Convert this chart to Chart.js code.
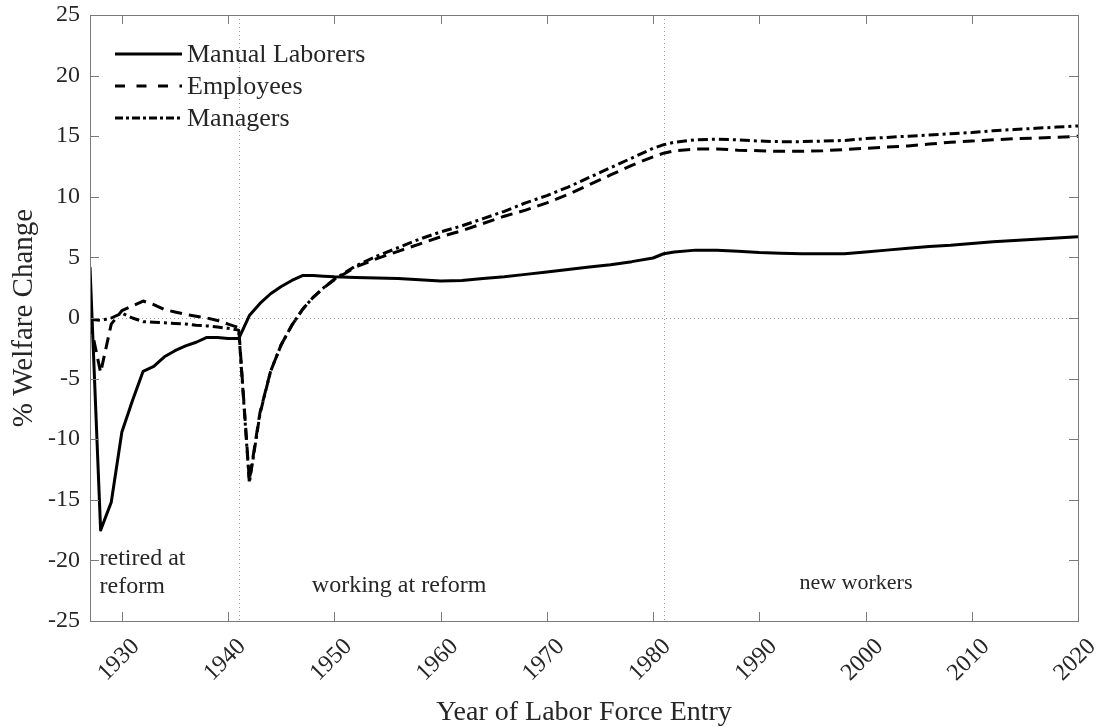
<!DOCTYPE html>
<html>
<head>
<meta charset="utf-8">
<script src="https://cdn.jsdelivr.net/npm/chart.js@4"></script>
<style>
  body { margin: 0; background: #fff; }
  #wrap { width: 1099px; height: 727px; }
</style>
</head>
<body>
<div id="wrap"><canvas id="welfareChart" width="1099" height="727"></canvas></div>
<script>
// year of labor force entry
var years = [1927,1928,1929,1930,1931,1932,1933,1934,1935,1936,1937,1938,1939,1940,1941,
  1942,1943,1944,1945,1946,1947,1948,1949,1950,1952,1954,1956,1958,1960,1962,1964,1966,
  1968,1970,1972,1974,1976,1978,1980,1981,1982,1984,1986,1988,1990,1992,1994,1996,1998,
  2000,2002,2004,2006,2008,2010,2012,2014,2016,2018,2020];

var manualLaborers = [4.2,-17.5,-15.2,-9.4,-6.8,-4.4,-4.0,-3.2,-2.7,-2.3,-2.0,-1.6,-1.6,-1.7,-1.7,
  0.2,1.2,2.0,2.6,3.1,3.5,3.5,3.45,3.4,3.35,3.3,3.25,3.15,3.05,3.1,3.25,3.4,
  3.6,3.8,4.0,4.2,4.4,4.65,4.95,5.3,5.45,5.6,5.6,5.5,5.4,5.35,5.3,5.3,5.3,
  5.45,5.6,5.75,5.9,6.0,6.15,6.3,6.4,6.5,6.6,6.7];

var employees = [-0.3,-4.5,-0.5,0.6,1.0,1.4,1.1,0.7,0.5,0.3,0.15,0.0,-0.2,-0.5,-0.8,
  -13.4,-7.8,-4.4,-2.2,-0.6,0.7,1.7,2.5,3.15,4.2,4.9,5.5,6.1,6.7,7.2,7.8,8.4,
  8.9,9.5,10.2,11.0,11.8,12.6,13.3,13.6,13.8,13.95,13.95,13.85,13.8,13.75,13.75,13.8,13.9,
  14.0,14.1,14.2,14.35,14.5,14.6,14.7,14.8,14.85,14.9,15.0];

var managers = [-0.1,-0.2,0.0,0.4,0.0,-0.3,-0.35,-0.4,-0.45,-0.5,-0.6,-0.65,-0.75,-0.85,-1.0,
  -13.6,-7.9,-4.4,-2.2,-0.6,0.7,1.7,2.5,3.2,4.3,5.1,5.8,6.5,7.1,7.6,8.2,8.8,
  9.5,10.1,10.8,11.6,12.4,13.2,14.0,14.3,14.5,14.7,14.75,14.7,14.6,14.55,14.55,14.6,14.65,
  14.8,14.9,15.0,15.1,15.2,15.3,15.45,15.55,15.65,15.75,15.85];

var seriesNames = ['Manual Laborers', 'Employees', 'Managers'];
var xTicks = [1930,1940,1950,1960,1970,1980,1990,2000,2010,2020];
var reformYears = [1941, 1981];

// text inside the plot: [text, year, value, align, size]
var notes = [
  ['retired at', 1927.9, -20.4, 'left', 24],
  ['reform', 1927.9, -22.7, 'left', 24],
  ['working at reform', 1956.1, -22.6, 'center', 24],
  ['new workers', 1999.1, -22.4, 'center', 22]
];

var FONT = "'Liberation Serif', 'DejaVu Serif', serif";
var INK = '#262626';
var BOX = '#7a7a7a';
var dashes = [[], [12, 7], [10, 4, 3, 4]];
var legendDashes = [[], [10, 11.5], [8, 3, 3, 3]];

function pts(vals) {
  return years.map(function (y, i) { return { x: y, y: vals[i] }; });
}

var matlabBits = {
  id: 'matlabBits',
  beforeDatasetsDraw: function (chart) {
    var c = chart.ctx, a = chart.chartArea;
    var xs = chart.scales.x, ys = chart.scales.y;
    c.save();
    c.strokeStyle = '#9a9a9a';
    c.lineWidth = 1;
    c.setLineDash([1, 3]);
    var y0 = Math.round(ys.getPixelForValue(0)) + 0.5;
    c.beginPath(); c.moveTo(a.left, y0); c.lineTo(a.right, y0); c.stroke();
    reformYears.forEach(function (yr) {
      var px = Math.round(xs.getPixelForValue(yr)) + 0.5;
      c.beginPath(); c.moveTo(px, a.top); c.lineTo(px, a.bottom); c.stroke();
    });
    c.restore();
  },
  afterDraw: function (chart) {
    var c = chart.ctx, a = chart.chartArea;
    var xs = chart.scales.x, ys = chart.scales.y;
    c.save();
    // box and inward ticks
    c.strokeStyle = BOX;
    c.lineWidth = 1;
    c.setLineDash([]);
    c.strokeRect(Math.round(a.left) + 0.5, Math.round(a.top) + 0.5,
      Math.round(a.right - a.left), Math.round(a.bottom - a.top));
    var tl = 9;
    c.beginPath();
    xs.ticks.forEach(function (t) {
      var px = Math.round(xs.getPixelForValue(t.value)) + 0.5;
      c.moveTo(px, a.bottom); c.lineTo(px, a.bottom - tl);
      c.moveTo(px, a.top); c.lineTo(px, a.top + tl);
    });
    ys.ticks.forEach(function (t) {
      var py = Math.round(ys.getPixelForValue(t.value)) + 0.5;
      c.moveTo(a.left, py); c.lineTo(a.left + tl, py);
      c.moveTo(a.right, py); c.lineTo(a.right - tl, py);
    });
    c.stroke();

    // notes
    c.fillStyle = INK;
    c.textBaseline = 'alphabetic';
    notes.forEach(function (n) {
      c.font = n[4] + 'px ' + FONT;
      c.textAlign = n[3];
      c.fillText(n[0], xs.getPixelForValue(n[1]), ys.getPixelForValue(n[2]));
    });

    // legend
    var lx0 = 115, lx1 = 182, ly = 54, step = 32;
    c.font = '26px ' + FONT;
    c.textAlign = 'left';
    c.textBaseline = 'middle';
    seriesNames.forEach(function (name, i) {
      var yy = ly + i * step;
      c.strokeStyle = '#000';
      c.lineWidth = 3;
      c.setLineDash(legendDashes[i]);
      c.beginPath(); c.moveTo(lx0, yy); c.lineTo(lx1, yy); c.stroke();
      c.fillText(name, lx1 + 5, yy + 1);
    });
    c.restore();
  }
};

var ctx = document.getElementById('welfareChart');

var myChart = new Chart(ctx, {
  type: 'line',
  data: {
    datasets: seriesNames.map(function (name, i) {
      return {
        label: name,
        data: pts([manualLaborers, employees, managers][i]),
        borderColor: '#000',
        borderWidth: 3,
        borderDash: dashes[i],
        borderJoinStyle: 'round',
        pointRadius: 0,
        tension: 0,
        fill: false
      };
    })
  },
  options: {
    responsive: false,
    animation: false,
    layout: { padding: { left: 0, top: 15, right: 21, bottom: 0 } },
    plugins: {
      legend: { display: false },
      tooltip: { enabled: false }
    },
    scales: {
      x: {
        type: 'linear',
        min: 1927,
        max: 2020,
        afterBuildTicks: function (scale) {
          scale.ticks = xTicks.map(function (v) { return { value: v }; });
        },
        afterFit: function (scale) {
          scale.height = 106;
          scale.paddingLeft = 0;
          scale.paddingRight = 0;
        },
        grid: { display: false, drawTicks: false },
        border: { display: true, color: BOX },
        ticks: {
          minRotation: 45,
          maxRotation: 45,
          padding: 12,
          labelOffset: 14,
          color: INK,
          font: { family: FONT, size: 24 },
          callback: function (v) { return String(v); }
        },
        title: {
          display: true,
          text: 'Year of Labor Force Entry',
          color: INK,
          font: { family: FONT, size: 28 },
          padding: { top: 0, bottom: -2 }
        }
      },
      y: {
        min: -25,
        max: 25,
        afterFit: function (scale) {
          scale.width = 90;
          scale.paddingTop = 0;
          scale.paddingBottom = 0;
        },
        grid: { display: false, drawTicks: false },
        border: { display: true, color: BOX },
        ticks: {
          stepSize: 5,
          padding: 10,
          color: INK,
          font: { family: FONT, size: 24 }
        },
        title: {
          display: true,
          text: '% Welfare Change',
          color: INK,
          font: { family: FONT, size: 29 },
          padding: { top: 7, bottom: 0 }
        }
      }
    }
  },
  plugins: [matlabBits]
});
</script>
</body>
</html>
